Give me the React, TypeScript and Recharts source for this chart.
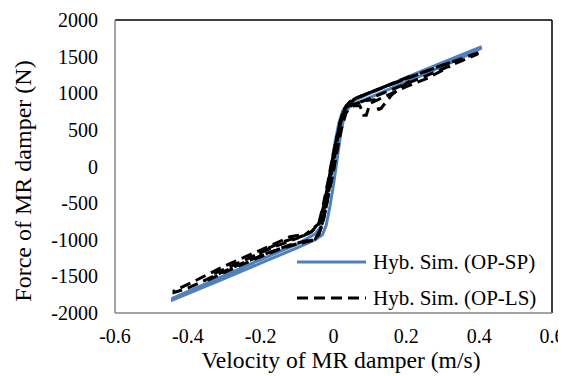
import { ScatterChart, Scatter, XAxis, YAxis, ReferenceLine } from "recharts";

// Hyb. Sim. (OP-SP) - one loop, velocity (m/s) / force (N)
const spVel = [
  0.407, 0.3, 0.2, 0.1, 0.06, 0.04, 0.025, 0.015, 0.005, -0.005, -0.015, -0.025, -0.035, -0.05, -0.1, -0.2, -0.3, -0.442,
  -0.442, -0.3, -0.2, -0.1, -0.05, -0.03, -0.02, -0.01, 0.0, 0.01, 0.02, 0.03, 0.045, 0.08, 0.15, 0.25, 0.35, 0.407,
];
const spForce = [
  1636, 1420, 1215, 1000, 910, 860, 760, 600, 350, 50, -300, -600, -820, -920, -1060, -1270, -1490, -1800,
  -1822, -1530, -1320, -1110, -1000, -930, -800, -550, -250, 100, 450, 700, 830, 900, 1050, 1260, 1480, 1620,
];

// Hyb. Sim. (OP-LS) - several loops
const lsVelA = [
  0.398, 0.35, 0.3, 0.25, 0.2, 0.15, 0.1, 0.07, 0.045, 0.03, 0.02, 0.01, 0.0, -0.01, -0.02, -0.03, -0.045, -0.07, -0.12, -0.2, -0.3, -0.38, -0.438,
  -0.438, -0.4, -0.33, -0.25, -0.18, -0.12, -0.07, -0.05, -0.035, -0.02, -0.01, 0.0, 0.01, 0.018, 0.028, 0.045, 0.08, 0.14, 0.2, 0.28, 0.35, 0.398,
];
const lsForceA = [
  1555, 1470, 1385, 1295, 1200, 1105, 1010, 950, 885, 790, 600, 350, 80, -200, -450, -650, -830, -920, -960, -1140, -1360, -1560, -1700,
  -1720, -1660, -1500, -1320, -1180, -1070, -1010, -990, -860, -550, -250, 50, 350, 600, 780, 840, 890, 1010, 1130, 1290, 1440, 1540,
];

const lsVelB = [
  0.32, 0.26, 0.19, 0.13, 0.09, 0.055, 0.035, 0.022, 0.01, -0.003, -0.015, -0.028, -0.04, -0.06, -0.1, -0.17, -0.25, -0.34,
  -0.34, -0.27, -0.2, -0.14, -0.09, -0.055, -0.04, -0.028, -0.015, -0.002, 0.01, 0.022, 0.035, 0.055, 0.072, 0.079, 0.083, 0.09, 0.1, 0.13, 0.2, 0.26, 0.32,
];
const lsForceB = [
  1420, 1310, 1180, 1070, 990, 910, 820, 660, 420, 120, -200, -520, -770, -890, -980, -1110, -1290, -1490,
  -1540, -1380, -1230, -1110, -1040, -1000, -930, -720, -420, -100, 220, 520, 740, 830, 830, 760, 700, 700, 860, 930, 1090, 1210, 1370,
];

const lsVelC = [
  0.21, 0.16, 0.12, 0.09, 0.06, 0.035, 0.02, 0.005, -0.01, -0.025, -0.04, -0.08, -0.14, -0.2,
  -0.2, -0.15, -0.1, -0.05, -0.03, -0.015, 0.0, 0.012, 0.025, 0.05, 0.09, 0.112, 0.119, 0.124, 0.13, 0.16, 0.21,
];
const lsForceC = [
  1230, 1130, 1050, 990, 930, 830, 650, 300, -100, -500, -780, -940, -1030, -1160,
  -1230, -1130, -1060, -1000, -800, -400, -50, 350, 700, 840, 900, 910, 840, 780, 790, 980, 1170,
];

const xTicks = [-0.6, -0.4, -0.2, 0, 0.2, 0.4, 0.6];
const yTicks = [-2000, -1500, -1000, -500, 0, 500, 1000, 1500, 2000];

const seriesNames = ["Hyb. Sim. (OP-SP)", "Hyb. Sim. (OP-LS)"];
const xTitle = "Velocity of MR damper (m/s)";
const yTitle = "Force of MR damper (N)";

const toPoints = (v: number[], f: number[]) => v.map((x, i) => ({ v: x, f: f[i] }));

const FONT = '"Liberation Serif"';
const BLUE = "#4f81bd";
const AXIS = "#868686";
const DASH = "11 6";

// plot box inside the chart (same numbers as the chart margins / axis sizes)
const W = 558;
const H = 368;
const M = { top: 12, right: 14, bottom: 0, left: 0 };
const Y_AXIS_W = 107;
const X_AXIS_H = 63;
const plotL = M.left + Y_AXIS_W;
const plotR = W - M.right;
const plotT = M.top;
const plotB = H - M.bottom - X_AXIS_H;

const noDot = () => <g />;

const fmtX = (t: number) => (t === 0 ? "0" : t.toFixed(1));

// the serif font only sticks outside the chart svg, so tick labels sit in the overlay
const xPos = (v: number) => plotL + ((v - xTicks[0]) / (xTicks[xTicks.length - 1] - xTicks[0])) * (plotR - plotL);
const yPos = (f: number) => plotT + ((yTicks[yTicks.length - 1] - f) / (yTicks[yTicks.length - 1] - yTicks[0])) * (plotB - plotT);

export default function App() {
  const textStyle = { fontFamily: FONT };

  return (
    <div style={{ position: "relative", width: W, height: H }}>
      <ScatterChart width={W} height={H} margin={M}>
        <XAxis
          type="number"
          dataKey="v"
          domain={[xTicks[0], xTicks[xTicks.length - 1]]}
          ticks={xTicks}
          height={X_AXIS_H}
          stroke={AXIS}
          strokeWidth={1.5}
          tickSize={5}
          tick={false}
          interval={0}
        />
        <YAxis
          type="number"
          dataKey="f"
          domain={[yTicks[0], yTicks[yTicks.length - 1]]}
          ticks={yTicks}
          width={Y_AXIS_W}
          stroke={AXIS}
          strokeWidth={1.5}
          tickSize={6}
          tick={false}
          interval={0}
        />
        <ReferenceLine y={2000} stroke="#000" strokeWidth={1.5} />
        <ReferenceLine x={0.6} stroke="#000" strokeWidth={1.5} />
        <Scatter
          name={seriesNames[0]}
          data={toPoints(spVel, spForce)}
          line={{ stroke: BLUE, strokeWidth: 3 }}
          lineType="joint"
          shape={noDot}
          isAnimationActive={false}
        />
        <Scatter
          name={seriesNames[1]}
          data={toPoints(lsVelA, lsForceA)}
          line={{ stroke: "#000", strokeWidth: 3, strokeDasharray: DASH }}
          lineType="joint"
          shape={noDot}
          isAnimationActive={false}
        />
        <Scatter
          data={toPoints(lsVelB, lsForceB)}
          line={{ stroke: "#000", strokeWidth: 3, strokeDasharray: DASH }}
          lineType="joint"
          shape={noDot}
          isAnimationActive={false}
        />
        <Scatter
          data={toPoints(lsVelC, lsForceC)}
          line={{ stroke: "#000", strokeWidth: 3, strokeDasharray: DASH }}
          lineType="joint"
          shape={noDot}
          isAnimationActive={false}
        />
      </ScatterChart>

      {/* tick labels, axis titles and legend on top of the chart */}
      <svg width={W} height={H} style={{ position: "absolute", left: 0, top: 0, pointerEvents: "none" }}>
        {xTicks.map((t) => (
          <text key={`x${t}`} x={xPos(t)} y={plotB + 5 + 11} dy="0.71em" textAnchor="middle" style={textStyle} fontSize={20} fill="#000">
            {fmtX(t)}
          </text>
        ))}
        {yTicks.map((t) => (
          <text key={`y${t}`} x={plotL - 6 - 11} y={yPos(t)} dy="0.355em" textAnchor="end" style={textStyle} fontSize={20} fill="#000">
            {t}
          </text>
        ))}
        <text x={333} y={360} textAnchor="middle" style={textStyle} fontSize={23.6} fill="#000">
          {xTitle}
        </text>
        <text
          x={15}
          y={173}
          transform="rotate(-90 15 173)"
          textAnchor="middle"
          dominantBaseline="central"
          style={textStyle}
          fontSize={24}
          fill="#000"
        >
          {yTitle}
        </text>
        <line x1={289} x2={358} y1={254} y2={254} stroke={BLUE} strokeWidth={3} />
        <text x={365} y={261} style={textStyle} fontSize={21} fill="#000">
          {seriesNames[0]}
        </text>
        <line x1={289} x2={358} y1={290} y2={290} stroke="#000" strokeWidth={3} strokeDasharray={DASH} />
        <text x={365} y={297} style={textStyle} fontSize={21} fill="#000">
          {seriesNames[1]}
        </text>
      </svg>
    </div>
  );
}
